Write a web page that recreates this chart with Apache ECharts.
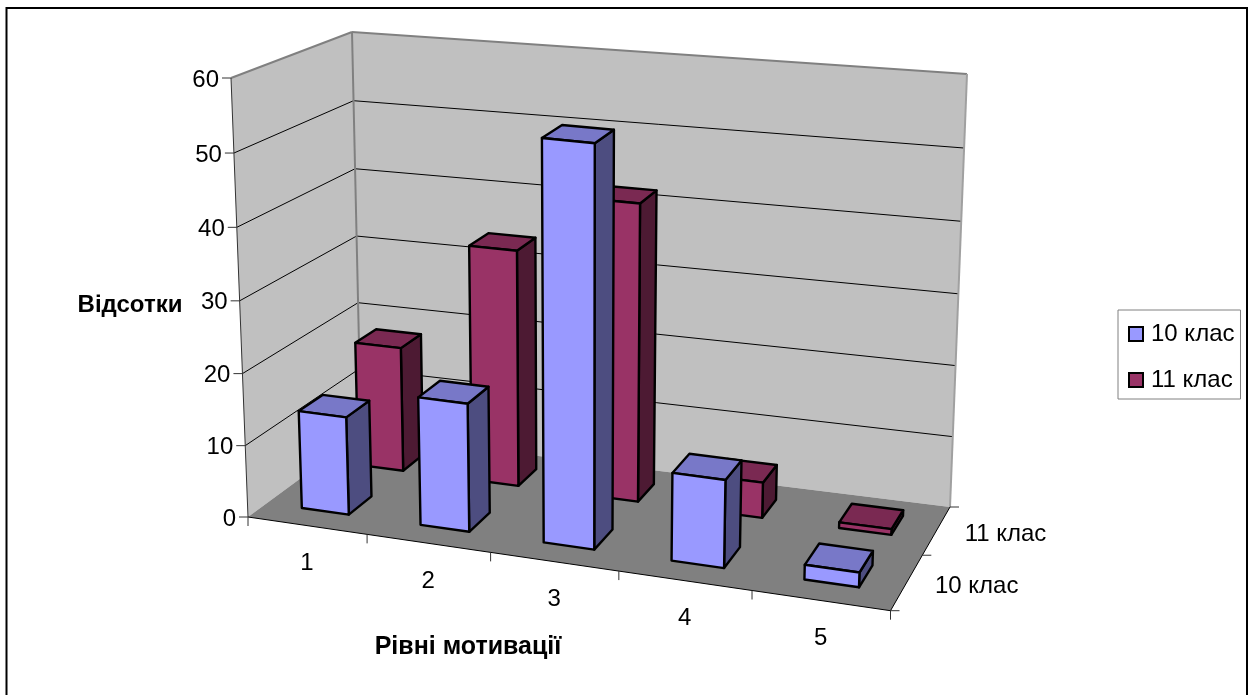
<!DOCTYPE html>
<html>
<head>
<meta charset="utf-8">
<style>html,body{margin:0;padding:0;background:#fff}#chart{width:1248px;height:695px}</style>
<script src="https://cdn.jsdelivr.net/npm/echarts@6/dist/echarts.min.js"></script>
</head>
<body>
<div id="chart"></div>
<script>
// Chart data
const levels = ['1', '2', '3', '4', '5'];
const grade10 = [13.7, 17.8, 54.8, 12, 2];
const grade11 = [18, 33.8, 42.1, 5, 0.8];
const seriesNames = ['10 клас', '11 клас'];
const valueTicks = [0, 10, 20, 30, 40, 50, 60];
const valueTitle = 'Відсотки';
const levelTitle = 'Рівні мотивації';

// Screen positions of the chart box corners
const floorFrontLeft = [248, 517], floorFrontRight = [890.5, 610.7];
const floorBackRight = [950, 507], floorBackLeft = [361, 434];
const topFrontLeft = [231, 78], topFrontRight = [906, 147];
const topBackRight = [967, 74], topBackLeft = [352, 32];

// Foreshortening along each box direction
const SKEW_U = -0.09, SKEW_V = 0.15, SKEW_W = -0.03;

const FONT = '24px "Liberation Sans", Arial, sans-serif';
const faces = [
  { front: '#9999FF', top: '#7878C8', side: '#4D4D80' },
  { front: '#993366', top: '#7A2952', side: '#4D1A33' }
];
const BAR_SHARE = 0.4; // bar width inside its category and depth band

const warp = (t, k) => t * (1 + k) / (1 + k * t);
const mix = (p, q, t) => [p[0] + (q[0] - p[0]) * t, p[1] + (q[1] - p[1]) * t];

// Maps the unit box (u along levels, v into depth, w up) to the screen
function project(u, v, w) {
  const fu = warp(u, SKEW_U), fv = warp(v, SKEW_V), fw = warp(w, SKEW_W);
  const floor = mix(mix(floorFrontLeft, floorFrontRight, fu), mix(floorBackLeft, floorBackRight, fu), fv);
  const roof = mix(mix(topFrontLeft, topFrontRight, fu), mix(topBackLeft, topBackRight, fu), fv);
  return mix(floor, roof, fw);
}

// Reads the box coordinates from the (hidden) cartesian axes
const GRID = { left: 100, top: 100, width: 500, height: 500 };
const toU = px => (px - GRID.left) / GRID.width;
const toW = py => (GRID.top + GRID.height - py) / GRID.height;

function poly(points, fill, stroke, lineWidth) {
  return {
    type: 'polygon',
    shape: { points },
    style: { fill, stroke: stroke || null, lineWidth: lineWidth || 0, lineJoin: 'round' }
  };
}
function line(p, q, stroke, lineWidth) {
  return {
    type: 'line',
    shape: { x1: p[0], y1: p[1], x2: q[0], y2: q[1] },
    style: { stroke, lineWidth }
  };
}
function label(text, x, y, align, font) {
  return {
    type: 'text',
    style: { text, x, y, fill: '#000', font: font || FONT, align: align || 'center', verticalAlign: 'middle' }
  };
}

function renderFrame(params, api) {
  const band = api.size([1, 0])[0];
  const wOf = val => toW(api.coord([0, val])[1]);
  const uEdge = i => toU(api.coord([i, 0])[0] - band / 2);
  const uMid = i => toU(api.coord([i, 0])[0]);
  const kids = [];
  const grey = '#808080';

  kids.push(poly([project(0, 0, 1), project(0, 1, 1), project(0, 1, 0), project(0, 0, 0)], '#C0C0C0'));
  kids.push(poly([project(0, 1, 1), project(1, 1, 1), project(1, 1, 0), project(0, 1, 0)], '#C0C0C0'));
  kids.push(poly([project(0, 0, 0), project(1, 0, 0), project(1, 1, 0), project(0, 1, 0)], grey));

  valueTicks.forEach(val => {
    const w = wOf(val);
    const front = project(0, 0, w), back = project(0, 1, w), right = project(1, 1, w);
    if (val > 0 && val < 60) {
      kids.push(line(front, back, '#000', 1));
      kids.push(line(back, right, '#000', 1));
    }
    kids.push(line([front[0] - 9, front[1]], front, '#333', 1));
    kids.push(label(String(val), front[0] - 12, front[1] + 2, 'right'));
  });

  kids.push(line(project(0, 0, 1), project(0, 1, 1), grey, 2));
  kids.push(line(project(0, 1, 1), project(1, 1, 1), grey, 2));
  kids.push(line(project(1, 1, 1), project(1, 1, 0), '#A0A0A0', 2));
  kids.push(line(project(0, 1, 1), project(0, 1, 0), grey, 2));
  kids.push(line(project(0, 0, 1), project(0, 0, 0), '#333', 1));
  kids.push(line(project(0, 0, 0), project(1, 0, 0), '#000', 1));
  kids.push(line(project(1, 0, 0), project(1, 1, 0), '#000', 1));

  levels.forEach((name, i) => {
    const p = project(uMid(i), 0, 0);
    kids.push(label(name, p[0], p[1] + 38));
  });
  for (let i = 0; i <= levels.length; i++) {
    const p = project(uEdge(i), 0, 0);
    kids.push(line(p, [p[0], p[1] + 9], '#333', 1));
  }
  [0, 0.5, 1].forEach(v => {
    const p = project(1, v, 0);
    kids.push(line(p, [p[0] + 9, p[1]], '#333', 1));
  });
  seriesNames.forEach((name, s) => {
    const p = project(1, (s + 0.5) / seriesNames.length, 0);
    kids.push(label(name, p[0] + 28, p[1] + 4.5, 'left'));
  });

  kids.push(label(valueTitle, 130, 305, 'center', 'bold 24px "Liberation Sans", Arial, sans-serif'));
  kids.push(label(levelTitle, 468, 647, 'center', 'bold 25px "Liberation Sans", Arial, sans-serif'));

  // Chart area outline
  kids.push({
    type: 'polyline',
    shape: { points: [[6.5, 700], [6.5, 8], [1247, 8], [1247, 700]] },
    style: { fill: null, stroke: '#000', lineWidth: 2 }
  });
  return { type: 'group', children: kids };
}

function barRenderer(seriesIndex) {
  const colours = faces[seriesIndex];
  return function (params, api) {
    const cat = api.value(0), val = api.value(1);
    const base = api.coord([cat, 0]), tip = api.coord([cat, val]);
    const band = api.size([1, 0])[0];
    const uc = toU(base[0]), half = toU(GRID.left + band * BAR_SHARE / 2);
    const u0 = uc - half, u1 = uc + half;
    const w = toW(tip[1]);
    const bandDepth = 1 / seriesNames.length;
    const v0 = bandDepth * (seriesIndex + (1 - BAR_SHARE) / 2);
    const v1 = v0 + bandDepth * BAR_SHARE;
    const stroke = '#000';
    return {
      type: 'group',
      children: [
        poly([project(u1, v0, 0), project(u1, v1, 0), project(u1, v1, w), project(u1, v0, w)], colours.side, stroke, 2.4),
        poly([project(u0, v0, w), project(u1, v0, w), project(u1, v1, w), project(u0, v1, w)], colours.top, stroke, 2.4),
        poly([project(u0, v0, 0), project(u1, v0, 0), project(u1, v0, w), project(u0, v0, w)], colours.front, stroke, 2.4)
      ]
    };
  };
}

const chart = echarts.init(document.getElementById('chart'));
chart.setOption({
  animation: false,
  backgroundColor: '#fff',
  grid: GRID,
  xAxis: { type: 'category', data: levels, show: false },
  yAxis: { type: 'value', min: 0, max: 60, interval: 10, show: false },
  legend: {
    orient: 'vertical',
    left: 1118,
    top: 310,
    padding: [12, 6, 7, 10],
    itemGap: 22,
    itemWidth: 14,
    itemHeight: 14,
    borderColor: '#808080',
    borderWidth: 1,
    textStyle: { fontFamily: '"Liberation Sans"', fontSize: 24, color: '#000', padding: [2, 0, 0, 3] },
    data: seriesNames.map((name, s) => ({
      name,
      icon: 'rect',
      itemStyle: { color: faces[s].front, borderColor: '#000', borderWidth: 2 }
    }))
  },
  series: [
    {
      type: 'custom', name: 'frame', coordinateSystem: 'cartesian2d', z: 1, silent: true,
      renderItem: renderFrame, data: [[0, 0]], clip: false
    },
    {
      type: 'custom', name: seriesNames[1], coordinateSystem: 'cartesian2d', z: 2, clip: false,
      itemStyle: { color: faces[1].front }, renderItem: barRenderer(1),
      data: grade11.map((v, i) => [i, v])
    },
    {
      type: 'custom', name: seriesNames[0], coordinateSystem: 'cartesian2d', z: 3, clip: false,
      itemStyle: { color: faces[0].front }, renderItem: barRenderer(0),
      data: grade10.map((v, i) => [i, v])
    }
  ]
});
</script>
</body>
</html>
